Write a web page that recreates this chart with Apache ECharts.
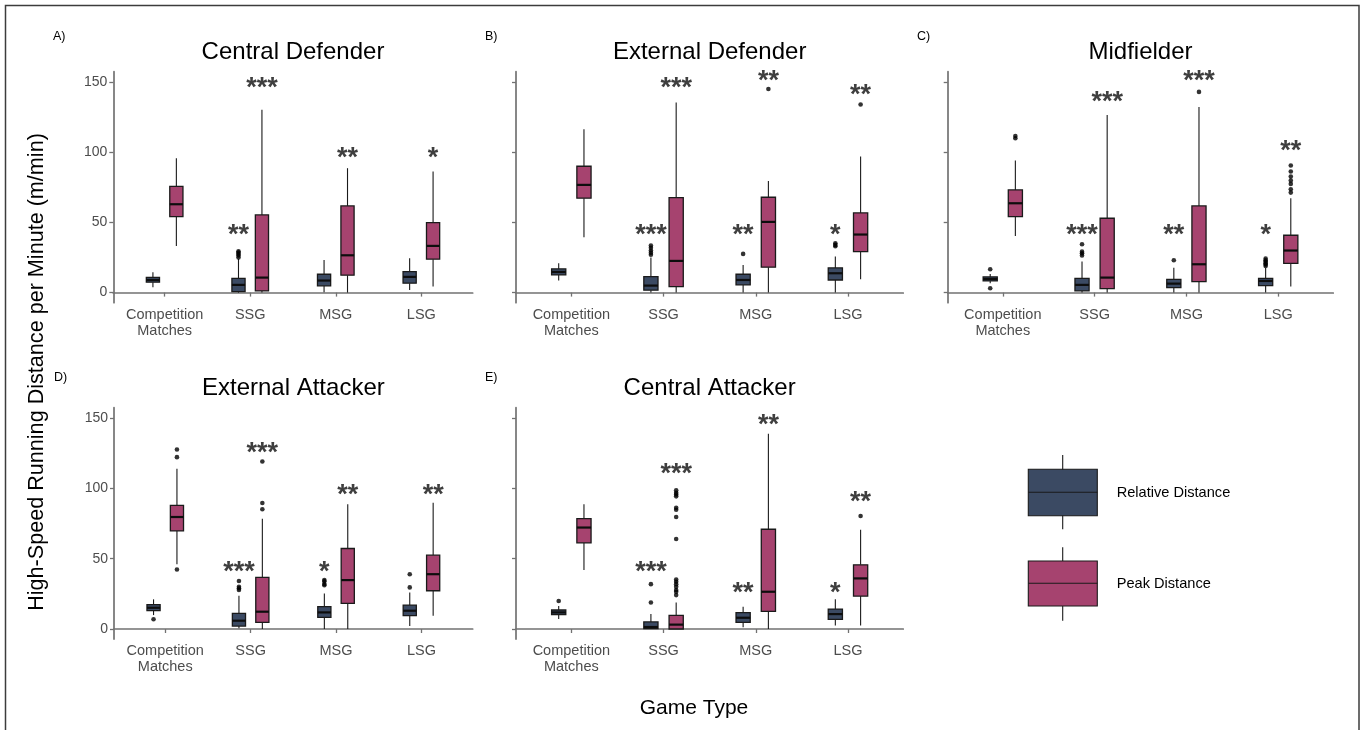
<!DOCTYPE html>
<html><head><meta charset="utf-8">
<script src="https://cdn.jsdelivr.net/npm/echarts@6/dist/echarts.min.js"></script>
<style>html,body{margin:0;padding:0;background:#fff}#c{width:1361px;height:730px}</style>
</head><body><div id="c"></div>
<script>
// ---------- DATA ----------
const categories = ['Competition\nMatches', 'SSG', 'MSG', 'LSG'];
const panelTitles = ['Central Defender', 'External Defender', 'Midfielder', 'External Attacker', 'Central Attacker'];
const panelTags = ['A)', 'B)', 'C)', 'D)', 'E)'];
const yTicks = [0, 50, 100, 150];
const seriesNames = ['Relative Distance', 'Peak Distance'];

// box stats per category: [min, q1, median, q3, max]
const relCD  = [[3.8, 7.4, 9.0, 10.9, 14.5], [0, 0.7, 5.5, 10.2, 24], [0.2, 4.8, 8.6, 13.1, 23.3], [1.9, 6.7, 11.2, 15.0, 24.5]];
const peakCD = [[33.3, 54.2, 63.0, 75.8, 95.8], [0, 1.2, 10.7, 55.4, 130.3], [0, 12.4, 26.6, 61.8, 88.7], [4.3, 23.8, 33.3, 49.9, 86.3]];
const relED  = [[8.6, 12.6, 14.7, 16.9, 20.9], [0, 1.7, 5.0, 11.4, 25], [0, 5.5, 9.0, 13.1, 19.7], [0, 9.0, 13.8, 17.6, 25.7]];
const peakED = [[39.5, 67.3, 76.8, 90.1, 116.5], [0, 4.3, 22.6, 67.7, 135.5], [0, 18.1, 50.4, 68.0, 79.6], [9.5, 29.2, 41.4, 56.8, 97.0]];
const relMF  = [[6.7, 8.3, 9.7, 11.2, 13.3], [0, 1.2, 5.5, 10.2, 22.1], [0, 3.6, 6.4, 9.5, 17.8], [0, 5.0, 8.3, 10.2, 17.5]];
const peakMF = [[40.4, 54.2, 63.7, 73.2, 94.1], [0, 2.9, 10.7, 53.0, 126.7], [0, 7.8, 20.2, 61.8, 132.4], [4.3, 20.9, 30.0, 40.9, 67.3]];
const relEA  = [[9.9, 13.0, 15.1, 17.3, 21.1], [0.5, 2.1, 5.9, 11.1, 23.7], [0, 8.3, 11.8, 15.9, 25.3], [2.1, 9.5, 13.0, 17.0, 26.0]];
const peakEA = [[46, 69.8, 79.7, 88.0, 114.0], [0, 4.7, 12.3, 36.7, 78.5], [0, 18.2, 34.8, 57.3, 88.7], [9.5, 27.2, 39.0, 52.5, 89.9]];
const relCA  = [[7.1, 10.2, 11.8, 13.5, 16.3], [0, 0.2, 1.4, 5.0, 10.6], [1.2, 4.7, 8.0, 11.6, 15.9], [2.4, 6.9, 10.6, 14.2, 21.1]];
const peakCA = [[41.9, 61.3, 72.2, 78.5, 88.7], [0, 0, 3.1, 9.7, 18.9], [0, 12.5, 26.5, 71.0, 138.9], [2.4, 23.4, 36.0, 45.7, 70.7]];

// outliers per category
const relOutCD  = [[], [25, 26.5, 27.5, 28.5, 29.5], [], []];
const peakOutCD = [[], [], [], []];
const relOutED  = [[], [27, 28.5, 30, 32, 33.5], [27.6], [33, 34, 35.2]];
const peakOutED = [[], [], [145.2], [134.1]];
const relOutMF  = [[16.6, 3.1], [26.5, 28, 29.2, 34.5], [23.1], [19, 20, 21, 22, 23, 24.2]];
const peakOutMF = [[110.1, 111.7], [], [143.1], [71.3, 73.7, 77.5, 79.9, 82.7, 86.3, 90.6]];
const relOutEA  = [[6.9], [27.7, 29, 30, 34.1], [31.2, 32, 34, 34.8], [29.6, 39.0]];
const peakOutEA = [[122.3, 127.8, 42.3], [85.2, 89.7, 119.2], [], []];
const relOutCA  = [[19.9], [18.9, 31.9], [], []];
const peakOutCA = [[], [24.1, 26.5, 27.7, 30.0, 31.9, 33.6, 35.2, 64.1, 79.7, 84.9, 86.3, 94.4, 95.8, 97.0, 98.7], [], [80.4]];

// significance markers: [category index, group (0 relative, 1 peak), y value, text]
const sigCD = [[1, 0, 44, '**'], [1, 1, 149.3, '***'], [2, 1, 98.9, '**'], [3, 1, 98.9, '*']];
const sigED = [[1, 0, 44, '***'], [1, 1, 149.3, '***'], [2, 0, 44, '**'], [2, 1, 154, '**'], [3, 0, 44, '*'], [3, 1, 144, '**']];
const sigMF = [[1, 0, 44, '***'], [1, 1, 139.1, '***'], [2, 0, 44, '**'], [2, 1, 154, '***'], [3, 0, 44, '*'], [3, 1, 104.1, '**']];
const sigEA = [[1, 0, 43.5, '***'], [1, 1, 128.7, '***'], [2, 0, 43.5, '*'], [2, 1, 98.7, '**'], [3, 1, 98.7, '**']];
const sigCA = [[1, 0, 43.5, '***'], [1, 1, 113.6, '***'], [2, 0, 28.6, '**'], [2, 1, 148.3, '**'], [3, 0, 28.6, '*'], [3, 1, 93.4, '**']];

// ---------- LAYOUT / STYLE ----------
const FONT = "'Liberation Sans', Arial, Helvetica, sans-serif";
const COLORS = ['#3b4a63', '#a6436f'];
const OFFSET = 0.137, HALF = 0.077;
const grids = [
  {left: 113.3, top: 71.7, width: 359.4, height: 231},
  {left: 516, top: 71.7, width: 387.3, height: 231},
  {left: 947.7, top: 71.7, width: 385.6, height: 231},
  {left: 114, top: 407.7, width: 358.7, height: 231.4},
  {left: 516, top: 407.7, width: 387.3, height: 231.4}
];
const panelStats = [[relCD, peakCD], [relED, peakED], [relMF, peakMF], [relEA, peakEA], [relCA, peakCA]];
const panelOut = [[relOutCD, peakOutCD], [relOutED, peakOutED], [relOutMF, peakOutMF], [relOutEA, peakOutEA], [relOutCA, peakOutCA]];
const panelSig = [sigCD, sigED, sigMF, sigEA, sigCA];
const tagPos = [[53, 37], [485, 37], [917, 37], [54, 378], [485, 378]];

const xAxes = [], yAxes = [], series = [], graphics = [];
grids.forEach((g, gi) => {
  xAxes.push({
    type: 'value', gridIndex: gi, min: 0.4, max: 4.6,
    axisLine: {show: true, lineStyle: {color: '#727272', width: 1.7}},
    axisTick: {show: true, customValues: [1, 2, 3, 4], length: 4, lineStyle: {color: '#727272', width: 1.3}},
    axisLabel: {show: true, customValues: [1, 2, 3, 4], formatter: v => categories[Math.round(v) - 1] || '',
      fontSize: 14.5, fontFamily: FONT, color: '#4d4d4d', lineHeight: 16, margin: 4},
    splitLine: {show: false}
  });
  yAxes.push({
    type: 'value', gridIndex: gi, min: -7.2, max: 157.5,
    axisLine: {show: true, lineStyle: {color: '#727272', width: 1.7}},
    axisTick: {show: true, customValues: yTicks, length: 4, lineStyle: {color: '#727272', width: 1.3}},
    axisLabel: {show: gi === 0 || gi === 3, customValues: yTicks, fontSize: 14, fontFamily: FONT, color: '#4d4d4d', margin: 6},
    splitLine: {show: false}
  });
  const cx = g.left + g.width / 2;
  graphics.push({type: 'text', x: cx, y: (gi < 3 ? 52.7 : 388.3), style: {text: panelTitles[gi], fill: '#000',
    font: '24px ' + FONT, textAlign: 'center', textVerticalAlign: 'middle'}});
  graphics.push({type: 'text', x: tagPos[gi][0], y: tagPos[gi][1], style: {text: panelTags[gi], fill: '#000',
    font: '12.5px ' + FONT, textAlign: 'left', textVerticalAlign: 'middle'}});

  [0, 1].forEach(grp => {
    const stats = panelStats[gi][grp];
    const off = grp ? OFFSET : -OFFSET;
    series.push({
      type: 'custom', name: seriesNames[grp], xAxisIndex: gi, yAxisIndex: gi,
      data: stats.map((s, i) => [i + 1 + off].concat(s)),
      encode: {x: 0, y: [1, 2, 3, 4, 5]},
      renderItem: (params, api) => {
        const x = api.value(0);
        const pMin = api.coord([x, api.value(1)]);
        const pQ1 = api.coord([x, api.value(2)]);
        const pMed = api.coord([x, api.value(3)]);
        const pQ3 = api.coord([x, api.value(4)]);
        const pMax = api.coord([x, api.value(5)]);
        const hw = api.size([HALF, 0])[0];
        const px = pMin[0];
        return {type: 'group', children: [
          {type: 'line', shape: {x1: px, y1: pMax[1], x2: px, y2: pQ3[1]}, style: {stroke: '#1a1a1a', lineWidth: 1.1}},
          {type: 'line', shape: {x1: px, y1: pQ1[1], x2: px, y2: pMin[1]}, style: {stroke: '#1a1a1a', lineWidth: 1.1}},
          {type: 'rect', shape: {x: px - hw, y: pQ3[1], width: 2 * hw, height: Math.max(pQ1[1] - pQ3[1], 1)},
            style: {fill: COLORS[grp], stroke: '#1a1a1a', lineWidth: 1.3}},
          {type: 'line', shape: {x1: px - hw, y1: pMed[1], x2: px + hw, y2: pMed[1]}, style: {stroke: '#0d0d0d', lineWidth: 2.2}}
        ]};
      }
    });
    const outs = [];
    panelOut[gi][grp].forEach((arr, ci) => arr.forEach(v => outs.push([ci + 1 + off, v])));
    series.push({type: 'scatter', xAxisIndex: gi, yAxisIndex: gi, data: outs, symbolSize: 4.6,
      itemStyle: {color: '#000'}, silent: true});
  });
  const sig = panelSig[gi];
  series.push({
    type: 'custom', xAxisIndex: gi, yAxisIndex: gi, clip: false,
    data: sig.map(s => [s[0] + 1 + (s[1] ? OFFSET : -OFFSET), s[2]]),
    encode: {x: 0, y: 1},
    renderItem: (params, api) => {
      const p = api.coord([api.value(0), api.value(1)]);
      return {type: 'text', x: p[0], y: p[1] + 5, style: {text: sig[params.dataIndex][3], fill: '#3f3f3f',
        font: 'bold 27px ' + FONT, textAlign: 'center', textVerticalAlign: 'middle'}};
    }
  });
});

// axis titles
graphics.push({type: 'text', x: 37, y: 372, rotation: Math.PI / 2, style: {text: 'High-Speed Running Distance per Minute (m/min)',
  fill: '#000', font: '21.6px ' + FONT, textAlign: 'center', textVerticalAlign: 'middle'}});
graphics.push({type: 'text', x: 694, y: 708, style: {text: 'Game Type', fill: '#000', font: '21px ' + FONT,
  textAlign: 'center', textVerticalAlign: 'middle'}});

// legend
const legendRows = [{top: 469.3, h: 46.4, med: 492.3, w1: 455, w2: 529.3}, {top: 561, h: 45, med: 583.3, w1: 547.3, w2: 620.7}];
legendRows.forEach((r, i) => {
  graphics.push({type: 'line', shape: {x1: 1062.7, y1: r.w1, x2: 1062.7, y2: r.w2}, style: {stroke: '#1a1a1a', lineWidth: 1.1}});
  graphics.push({type: 'rect', shape: {x: 1028.3, y: r.top, width: 69, height: r.h}, style: {fill: COLORS[i], stroke: '#1a1a1a', lineWidth: 1.1}});
  graphics.push({type: 'line', shape: {x1: 1028.3, y1: r.med, x2: 1097.3, y2: r.med}, style: {stroke: '#1a1a1a', lineWidth: 1.1}});
  graphics.push({type: 'text', x: 1116.7, y: r.med + 1, style: {text: seriesNames[i], fill: '#000', font: '14.6px ' + FONT,
    textAlign: 'left', textVerticalAlign: 'middle'}});
});
// outer frame
graphics.push({type: 'rect', shape: {x: 5.5, y: 5.5, width: 1353.5, height: 740}, style: {fill: 'none', stroke: '#3c3c3c', lineWidth: 1.5}});

const chart = echarts.init(document.getElementById('c'), null, {renderer: 'canvas'});
chart.setOption({
  animation: false,
  backgroundColor: '#fff',
  grid: grids.map(g => Object.assign({containLabel: false}, g)),
  xAxis: xAxes, yAxis: yAxes, series: series,
  graphic: graphics
});
</script></body></html>
